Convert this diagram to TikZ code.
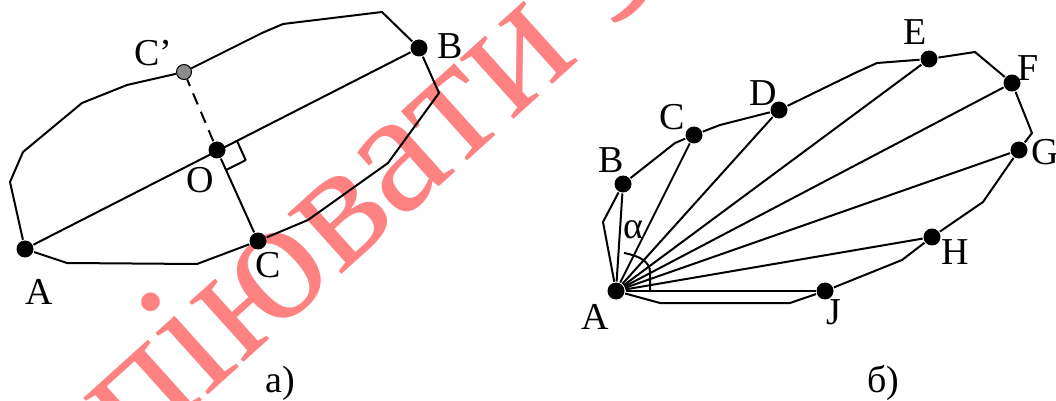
\documentclass[tikz,border=0pt]{standalone}
\usepackage{fontspec}
\setmainfont{Liberation Serif}
\usetikzlibrary{calc}
\definecolor{stamp}{RGB}{255,130,130}

\begin{document}
\begin{tikzpicture}[
        x=0.5pt, y=-0.5pt,
        line width=1pt, line join=round,
        dot/.style={circle, fill=black, inner sep=0pt, minimum size=8.5pt},
        greydot/.style={circle, fill=black!45, draw=black, line width=0.5pt, inner sep=0pt, minimum size=7.5pt},
        lbl/.style={inner sep=0pt, font=\fontsize{19}{23}\selectfont},
        dashline/.style={dashed, dash pattern=on 6pt off 4pt}
    ]
        \useasboundingbox (0,0) rectangle (1056,401);
        \node[text=stamp, rotate=42, anchor=base west, inner sep=0pt, font=\fontsize{88}{92}\selectfont] (stamp) at (12,571) {копіювати заборонено};

        % a)
        \node[dot] (A) at (25,249) {};
        \node[dot] (B) at (419,48) {};
        \node[dot] (C) at (258,241) {};
        \node[dot] (O) at (217,150) {};
        \node[greydot] (Cp) at (184,72) {};

        \draw (A) -- (10,182) -- (23,152) -- (82,103) -- (127,85) -- (Cp) -- (262,33) -- (283,24) -- (382,12) -- (B) -- (439,93) -- (388,163) -- (308,220) -- (C) -- (197,264) -- (67,263) -- (A);
        \draw (A) -- (B);
        \draw (O) -- (C);
        \draw[dashline] (O) -- (Cp);
        \coordinate (rb) at ($(O.center)!11pt!(B.center)$);
        \coordinate (rc) at ($(O.center)!11pt!(C.center)$);
        \draw (rb) -- ($(rb)+(rc)-(O.center)$) -- (rc);

        \node[lbl] (lA) at (39,292) {A};
        \node[lbl] (lB) at (450,46) {B};
        \node[lbl] (lC) at (268,265) {C};
        \node[lbl] (lO) at (200,180) {O};
        \node[lbl] (lCp) at (153,53) {C’};
        \node[lbl] (la) at (280,383) {а)};

        % b)
        \node[dot] (A2) at (616,291) {};
        \node[dot] (B2) at (623,184) {};
        \node[dot] (C2) at (694,135) {};
        \node[dot] (D2) at (779,110) {};
        \node[dot] (E2) at (929,59) {};
        \node[dot] (F2) at (1012,83) {};
        \node[dot] (G2) at (1019,150) {};
        \node[dot] (H2) at (932,237) {};
        \node[dot] (J2) at (825,291) {};

        \draw (A2) -- (603,222) -- (B2) -- (675,143) -- (C2) -- (720,125) -- (D2) -- (855,73) -- (877,63) -- (E2) -- (975,52) -- (F2) -- (1032,133) -- (G2) -- (983,202) -- (H2) -- (902,260) -- (J2) -- (790,303) -- (660,303) -- (A2);
        \foreach \p in {B2,C2,D2,E2,F2,G2,H2,J2}
            \draw (A2) -- (\p);
        \draw (624,253) .. controls (640,256) and (650,262) .. (650,272) -- (650,291);

        \node[lbl] (lA2) at (595,317) {A};
        \node[lbl] (lB2) at (611,160) {B};
        \node[lbl] (lC2) at (672,117) {C};
        \node[lbl] (lD2) at (763,93) {D};
        \node[lbl] (lE2) at (915,32) {E};
        \node[lbl] (lF2) at (1028,68) {F};
        \node[lbl] (lG2) at (1045,152) {G};
        \node[lbl] (lH2) at (955,252) {H};
        \node[lbl] (lJ2) at (834,312) {J};
        \node[lbl] (lal) at (633,230) {α};
        \node[lbl] (lb) at (883,383) {б)};
    \end{tikzpicture}
\end{document}
